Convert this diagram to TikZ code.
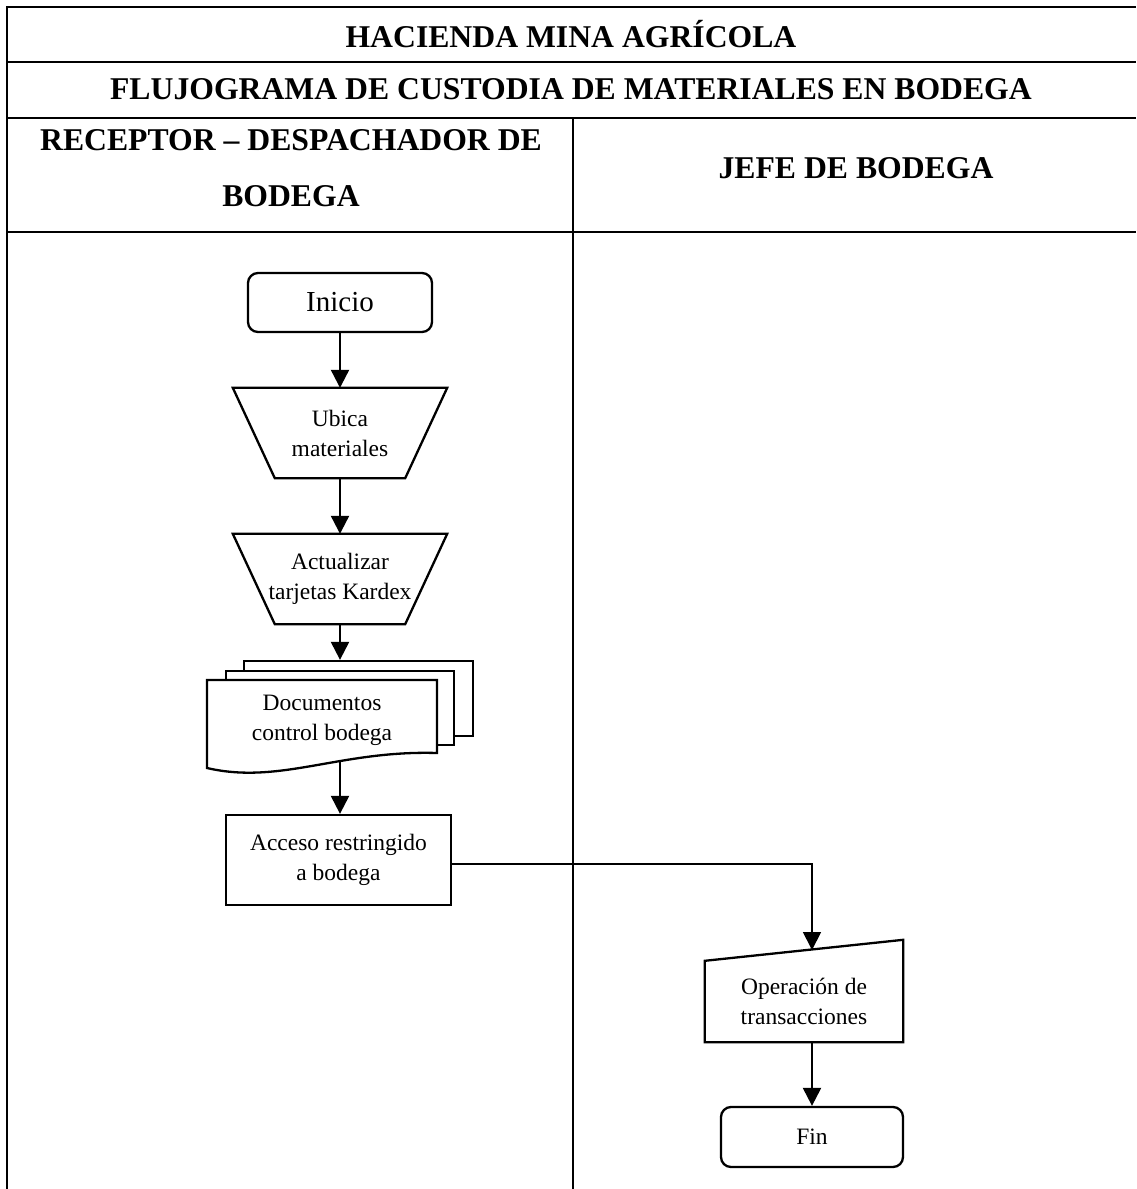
\documentclass[tikz,border=0pt]{standalone}
\usepackage{fontspec}
\setmainfont{Liberation Serif}
\usetikzlibrary{arrows.meta}
\begin{document}
\begin{tikzpicture}[x=1pt,y=-1pt,
  tbl/.style={line width=2.6pt},
  shp/.style={draw, line width=2.3pt},
  txt/.style={align=center, font=\fontsize{23.5}{30}\selectfont, inner sep=0pt},
  flow/.style={line width=2.2pt, -{Triangle[width=18pt,length=18pt]}},
  hdr/.style={font=\bfseries\fontsize{31.7}{56}\selectfont, align=center, inner sep=0pt}]
\useasboundingbox (0,0) rectangle (1136,1189);
% table
\draw[tbl] (7,1189) -- (7,7) -- (1136,7);
\draw[tbl] (7,62) -- (1136,62);
\draw[tbl] (7,118) -- (1136,118);
\draw[tbl] (7,232) -- (1136,232);
\draw[tbl] (573,118) -- (573,1189);
% headers
\node[hdr] (t1) at (571,34) {HACIENDA MINA AGRÍCOLA};
\node[hdr] (t2) at (571,89) {FLUJOGRAMA DE CUSTODIA DE MATERIALES EN BODEGA};
\node[hdr] (c1) at (291,168) {RECEPTOR – DESPACHADOR DE\\BODEGA};
\node[hdr] (c2) at (856,168) {JEFE DE BODEGA};
% flow nodes
\node[shp, rounded corners=10pt, minimum width=184pt, minimum height=59pt, inner sep=0pt,
  font=\fontsize{29}{34}\selectfont] (inicio) at (340,302.5) {Inicio};
\node[txt, minimum width=214pt, minimum height=90pt] (ubica) at (340,433) {Ubica\\materiales};
\draw[shp] (ubica.north west) -- (ubica.north east) -- ([xshift=-42pt]ubica.south east)
  -- ([xshift=42pt]ubica.south west) -- cycle;
\node[txt, minimum width=214pt, minimum height=90pt] (actual) at (340,579) {Actualizar\\tarjetas Kardex};
\draw[shp] (actual.north west) -- (actual.north east) -- ([xshift=-42pt]actual.south east)
  -- ([xshift=42pt]actual.south west) -- cycle;
% document stack
\node[shp, fill=white, minimum width=229pt, minimum height=75pt, inner sep=0pt] (docback) at (358.5,698.5) {};
\node[shp, fill=white, minimum width=228pt, minimum height=74pt, inner sep=0pt] (docmid) at (340,708) {};
\draw[shp, fill=white] (207,768) -- (207,680) -- (437,680) -- (437,753)
  .. controls (340,750) and (280,785) .. (207,768) -- cycle;
\node[txt] (docs) at (322,720) {Documentos\\control bodega};
\coordinate (docbot) at (340,762);
\node[txt, shp, minimum width=225pt, minimum height=90pt] (acceso) at (338.5,860) {Acceso restringido\\a bodega};
\node[txt, minimum width=198pt, minimum height=81pt] (op) at (804,1001.5) {Operación de\\transacciones};
\draw[shp] (op.south west) -- (op.north west) -- ([yshift=21pt]op.north east) -- (op.south east) -- cycle;
\coordinate (opin) at (812,950);
\node[txt, shp, rounded corners=10pt, minimum width=182pt, minimum height=60pt] (fin) at (812,1137) {Fin};
% connectors
\draw[flow] (inicio.south) -- (ubica.north);
\draw[flow] (ubica.south) -- (actual.north);
\draw[flow] (actual.south) -- (actual.south |- docback.north);
\draw[flow] (docbot) -- (docbot |- acceso.north);
\draw[flow, line width=1.8pt] ([yshift=-4pt]acceso.east) -| (opin);
\draw[flow] (op.south -| fin.north) -- (fin.north);
\end{tikzpicture}
\end{document}
